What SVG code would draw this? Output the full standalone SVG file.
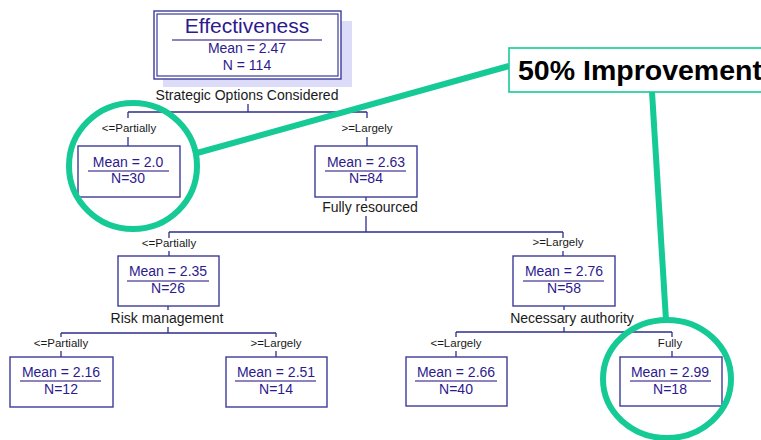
<svg xmlns="http://www.w3.org/2000/svg" width="761" height="440" viewBox="0 0 761 440">
<style>
.box{fill:#fff;stroke:#3b3b9a;stroke-width:1.4}
.ul{stroke:#6a5aa8;stroke-width:1.3}
.val{font-family:"Liberation Sans",Arial,sans-serif;font-size:14px;fill:#2d1a8e;text-anchor:middle}
.lbl{font-family:"Liberation Sans",Arial,sans-serif;font-size:14px;fill:#1a1a1a;text-anchor:middle}
.br{font-family:"Liberation Sans",Arial,sans-serif;font-size:11.5px;fill:#1a1a1a;text-anchor:middle}
.con{stroke:#2e2e8a;stroke-width:1.3;fill:none}
.hl{fill:none;stroke:#16ca96;stroke-width:6}
</style>
<rect width="761" height="440" fill="#fff"/>
<g id="connectors">
<path class="con" d="M248 79V87M248 104V112M128 112H367M128 112V118M128 137V146M367 112V118M367 137V146"/>
<path class="con" d="M366 197V201M366 216V232M169 232H563M169 232V238M169 251V256M563 232V238M563 251V256"/>
<path class="con" d="M168 306V310M168 327V333M61 333H276M61 333V337M61 351V357M276 333V337M276 351V357"/>
<path class="con" d="M564 306V310M564 327V332M456 332H672M456 332V337M456 351V357M672 332V337M672 351V357"/>
</g>
<g id="labels">
<text class="lbl" x="247" y="100">Strategic Options Considered</text>
<text class="br" x="129" y="132">&lt;=Partially</text>
<text class="br" x="367" y="132">&gt;=Largely</text>
<text class="lbl" x="370" y="212">Fully resourced</text>
<text class="br" x="169" y="247">&lt;=Partially</text>
<text class="br" x="558" y="246">&gt;=Largely</text>
<text class="lbl" x="167" y="323">Risk management</text>
<text class="lbl" x="572" y="323">Necessary authority</text>
<text class="br" x="61" y="347">&lt;=Partially</text>
<text class="br" x="276" y="347">&gt;=Largely</text>
<text class="br" x="456" y="347">&lt;=Largely</text>
<text class="br" x="670" y="347">Fully</text>
</g>
<g id="root">
<rect x="163" y="21" width="189" height="66" fill="#dcdcf8"/>
<rect class="box" x="154" y="11" width="187" height="68"/>
<rect x="157" y="14" width="181" height="62" fill="none" stroke="#3b3b9a" stroke-width="1.2"/>
<text x="247" y="33" font-family="'Liberation Sans',Arial,sans-serif" font-size="21" fill="#2d1a8e" text-anchor="middle">Effectiveness</text>
<line class="ul" x1="172" y1="40" x2="322" y2="40"/>
<text class="val" x="247" y="53">Mean = 2.47</text>
<text class="val" x="247" y="70">N = 114</text>
</g>
<g id="n1">
<rect class="box" x="78" y="146" width="102" height="51"/>
<line class="ul" x1="88" y1="171" x2="169" y2="171"/>
<text class="val" x="128" y="167">Mean = 2.0</text>
<text class="val" x="128" y="183">N=30</text>
</g>
<g id="n2">
<rect class="box" x="315" y="146" width="102" height="51"/>
<line class="ul" x1="325" y1="171" x2="406" y2="171"/>
<text class="val" x="366" y="167">Mean = 2.63</text>
<text class="val" x="366" y="183">N=84</text>
</g>
<g id="n3">
<rect class="box" x="118" y="256" width="101" height="50"/>
<line class="ul" x1="127" y1="281" x2="209" y2="281"/>
<text class="val" x="168" y="276">Mean = 2.35</text>
<text class="val" x="168" y="293">N=26</text>
</g>
<g id="n4">
<rect class="box" x="513" y="256" width="102" height="50"/>
<line class="ul" x1="523" y1="281" x2="604" y2="281"/>
<text class="val" x="564" y="276">Mean = 2.76</text>
<text class="val" x="564" y="293">N=58</text>
</g>
<g id="n5">
<rect class="box" x="10" y="357" width="103" height="50"/>
<line class="ul" x1="20" y1="381" x2="101" y2="381"/>
<text class="val" x="61" y="377">Mean = 2.16</text>
<text class="val" x="61" y="394">N=12</text>
</g>
<g id="n6">
<rect class="box" x="226" y="357" width="101" height="50"/>
<line class="ul" x1="235" y1="381" x2="316" y2="381"/>
<text class="val" x="276" y="377">Mean = 2.51</text>
<text class="val" x="276" y="394">N=14</text>
</g>
<g id="n7">
<rect class="box" x="406" y="357" width="101" height="49"/>
<line class="ul" x1="415" y1="381" x2="497" y2="381"/>
<text class="val" x="456" y="377">Mean = 2.66</text>
<text class="val" x="456" y="394">N=40</text>
</g>
<g id="n8">
<rect class="box" x="620" y="357" width="102" height="49"/>
<line class="ul" x1="630" y1="381" x2="711" y2="381"/>
<text class="val" x="670" y="377">Mean = 2.99</text>
<text class="val" x="670" y="394">N=18</text>
</g>
<g id="highlight">
<line class="hl" x1="197" y1="153" x2="509" y2="66"/>
<line class="hl" x1="652" y1="92" x2="666" y2="320"/>
<ellipse class="hl" cx="133" cy="166" rx="64" ry="63"/>
<ellipse class="hl" cx="667" cy="379" rx="64" ry="59"/>
<rect x="509" y="48" width="260" height="44" fill="#fff" stroke="#16ca96" stroke-width="1.6"/>
<text x="518" y="80" font-family="'Liberation Sans',Arial,sans-serif" font-size="28.5" font-weight="bold" fill="#000">50% Improvement</text>
</g>
</svg>
